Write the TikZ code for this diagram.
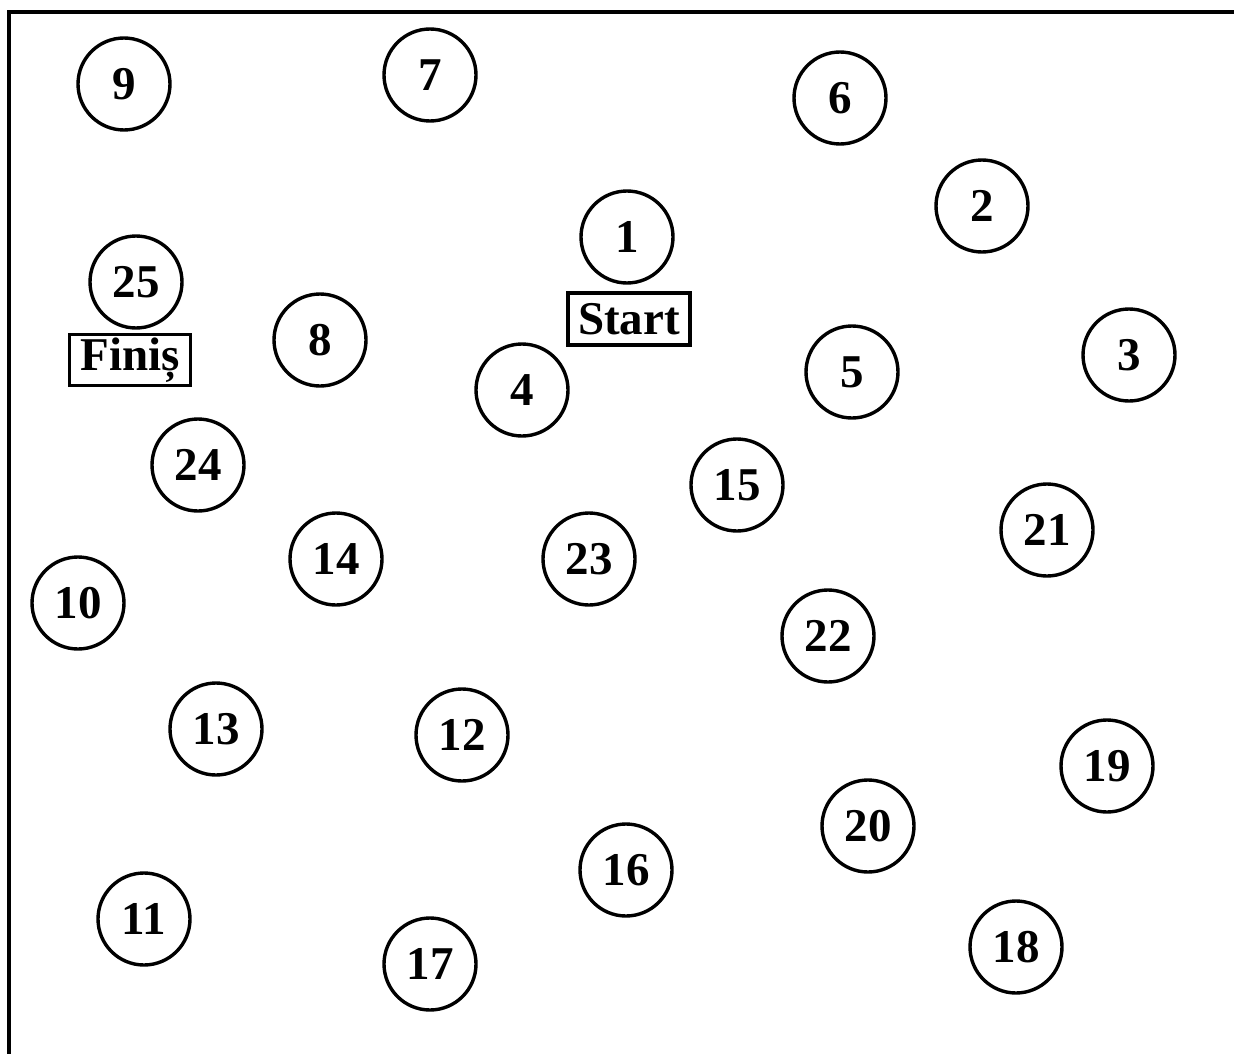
\documentclass[tikz,border=0pt]{standalone}
\usepackage{fontspec}
\setmainfont{Liberation Serif}
\begin{document}
\begin{tikzpicture}[x=1pt,y=-1pt,
  num/.style={circle,draw,line width=3.4pt,minimum size=92pt,inner sep=0pt,font=\fontsize{47}{50}\selectfont\bfseries},
  lab/.style={rectangle,draw,line width=3.2pt,inner sep=0pt,font=\fontsize{47}{50}\selectfont\bfseries}]
\useasboundingbox (0,0) rectangle (1234,1054);
\begin{scope}
\clip (0,0) rectangle (1234,1054);
\draw[line width=4pt] (8.5,1070) -- (8.5,12.5) -- (1250,12.5);
\end{scope}
\newcommand{\dn}[1]{\raisebox{-3pt}{#1}}
\node[num] (n9) at (124,84) {\dn{9}};
\node[num] (n7) at (430,75) {\dn{7}};
\node[num] (n6) at (840,98) {\dn{6}};
\node[num] (n2) at (982,206) {\dn{2}};
\node[num] (n1) at (627,237) {\dn{1}};
\node[lab,minimum width=122pt,minimum height=52pt] (start) at (629,319) {\dn{Start}};
\node[num] (n25) at (136,282) {\dn{25}};
\node[lab,minimum width=121pt,minimum height=51pt] (finis) at (130,360) {\dn{Finiș}};
\node[num] (n8) at (320,340) {\dn{8}};
\node[num] (n4) at (522,390) {\dn{4}};
\node[num] (n5) at (852,372) {\dn{5}};
\node[num] (n3) at (1129,355) {\dn{3}};
\node[num] (n24) at (198,465) {\dn{24}};
\node[num] (n15) at (737,485) {\dn{15}};
\node[num] (n21) at (1047,530) {\dn{21}};
\node[num] (n14) at (336,559) {\dn{14}};
\node[num] (n23) at (589,559) {\dn{23}};
\node[num] (n10) at (78,603) {\dn{10}};
\node[num] (n22) at (828,636) {\dn{22}};
\node[num] (n13) at (216,729) {\dn{13}};
\node[num] (n12) at (462,735) {\dn{12}};
\node[num] (n19) at (1107,766) {\dn{19}};
\node[num] (n20) at (868,826) {\dn{20}};
\node[num] (n16) at (626,870) {\dn{16}};
\node[num] (n11) at (144,919) {\dn{11}};
\node[num] (n17) at (430,964) {\dn{17}};
\node[num] (n18) at (1016,947) {\dn{18}};
\end{tikzpicture}
\end{document}
